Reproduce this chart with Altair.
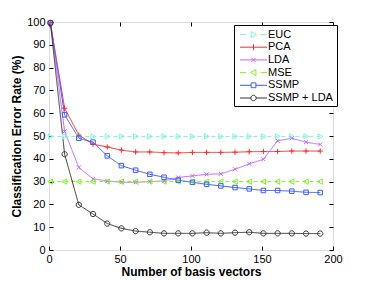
import altair as alt
import pandas as pd

# ---------------- data ----------------
basis = [1, 11, 21, 31, 41, 51, 61, 71, 81, 91, 101, 111, 121, 131, 141, 151, 161, 171, 181, 191]
series_names = ["EUC", "PCA", "LDA", "MSE", "SSMP", "SSMP + LDA"]
euc = [49.8, 49.8, 49.8, 49.8, 49.8, 49.8, 49.8, 49.8, 49.8, 49.8, 49.8, 49.8, 49.8, 49.8, 49.8, 49.8, 49.8, 49.8, 49.8, 49.8]
pca = [99.6, 62.2, 50.4, 46.4, 45.2, 43.8, 43.0, 43.0, 42.7, 42.6, 42.8, 42.8, 42.8, 42.9, 43.1, 43.2, 43.2, 43.4, 43.4, 43.4]
lda = [99.6, 52.0, 36.2, 31.2, 30.3, 29.7, 29.7, 30.0, 30.3, 31.8, 32.5, 33.2, 33.4, 35.4, 37.8, 39.8, 47.9, 49.0, 47.3, 46.3]
mse = [30.0, 30.0, 30.0, 30.0, 30.0, 30.0, 30.0, 30.0, 30.0, 30.0, 30.0, 30.0, 30.0, 30.0, 30.0, 30.0, 30.0, 30.0, 30.0, 30.0]
ssmp = [99.6, 59.3, 49.0, 47.3, 41.3, 37.0, 35.0, 33.2, 31.9, 30.6, 29.7, 28.8, 28.1, 27.4, 26.8, 26.1, 26.1, 25.8, 25.3, 25.2]
ssmp_lda = [99.6, 42.0, 19.8, 15.8, 11.6, 9.5, 8.3, 7.8, 7.3, 7.3, 7.3, 7.6, 7.3, 7.6, 7.8, 7.3, 7.3, 7.3, 7.2, 7.2]
x_ticks = [0, 50, 100, 150, 200]
y_ticks = [0, 10, 20, 30, 40, 50, 60, 70, 80, 90, 100]

colors = ["#7ff5dc", "#ff2a2a", "#c266ff", "#80f030", "#3d5cff", "#333333"]
dashes = [[4, 3], [1, 0], [1, 0], [4, 3], [1, 0], [1, 0]]
marker_paths = [
    "M-0.8,-1L1,0L-0.8,1Z",
    "M-1,0L1,0M0,-1L0,1",
    "M-0.75,-0.75L0.75,0.75M-0.75,0.75L0.75,-0.75",
    "M0.8,-1L-1,0L0.8,1Z",
    "M-0.85,-0.85L0.85,-0.85L0.85,0.85L-0.85,0.85Z",
    "M-1,0A1,1 0 1,0 1,0A1,1 0 1,0 -1,0Z",
]
legend_paths = [
    "M-2.25,0L-1.2,0M1.2,0L2.25,0M-0.4,-0.5L0.5,0L-0.4,0.5Z",
    "M-2.25,0L2.25,0M0,-0.5L0,0.5",
    "M-2.25,0L2.25,0M-0.35,-0.35L0.35,0.35M-0.35,0.35L0.35,-0.35",
    "M-2.25,0L-1.2,0M1.2,0L2.25,0M0.4,-0.5L-0.5,0L0.4,0.5Z",
    "M-2.25,0L-0.4,0M0.4,0L2.25,0M-0.4,-0.4L0.4,-0.4L0.4,0.4L-0.4,0.4Z",
    "M-2.25,0L-0.45,0M0.45,0L2.25,0M-0.45,0A0.45,0.45 0 1,0 0.45,0A0.45,0.45 0 1,0 -0.45,0Z",
]

rows = []
for name, vals in zip(series_names, [euc, pca, lda, mse, ssmp, ssmp_lda]):
    for xv, yv in zip(basis, vals):
        rows.append({"series": name, "x": xv, "y": yv})
df = pd.DataFrame(rows)

W, H = 284, 228
FONT = "Liberation Sans"

xscale = alt.Scale(domain=[0, 200], nice=False, zero=False)
yscale = alt.Scale(domain=[0, 100], nice=False, zero=False)
cscale = alt.Scale(domain=series_names, range=colors)

main_x_axis = alt.Axis(values=x_ticks, ticks=False, domain=False, grid=False, labelFlush=False,
                       labelFontSize=11, labelFont=FONT, labelColor="#000", labelPadding=3,
                       title="Number of basis vectors", titleFontSize=12, titleFont=FONT,
                       titleFontWeight="bold", titleColor="#000", titlePadding=2)
main_y_axis = alt.Axis(values=y_ticks, ticks=False, domain=False, grid=False, labelFlush=False,
                       labelFontSize=11, labelFont=FONT, labelColor="#000", labelPadding=4,
                       title="Classification Error Rate (%)", titleFontSize=12, titleFont=FONT,
                       titleFontWeight="bold", titleColor="#000", titlePadding=3)


def tick_axis(values, orient, offset):
    return alt.Axis(values=values, orient=orient, offset=offset, labels=False, domain=False,
                    grid=False, ticks=True, tickSize=4, tickColor="#000", tickWidth=1, title=None)


base = alt.Chart(df)

layers = []
for i, name in enumerate(series_names):
    if i == 0:
        xa, ya = main_x_axis, main_y_axis
    else:
        xa, ya = None, None
    ln = base.transform_filter(alt.datum.series == name).mark_line(
        strokeWidth=1, color=colors[i], strokeDash=dashes[i]
    ).encode(
        x=alt.X("x:Q", scale=xscale, axis=xa),
        y=alt.Y("y:Q", scale=yscale, axis=ya),
    )
    layers.append(ln)

for i, name in enumerate(series_names):
    if i == 0:
        xa = tick_axis(x_ticks, "top", -H)
        ya = tick_axis(y_ticks, "right", -W)
    elif i == 1:
        xa = tick_axis(x_ticks, "bottom", -H)
        ya = tick_axis(y_ticks, "left", -W)
    else:
        xa, ya = None, None
    pt = base.transform_filter(alt.datum.series == name).mark_point(
        shape=marker_paths[i], filled=False, size=28, strokeWidth=1, opacity=1, color=colors[i]
    ).encode(
        x=alt.X("x:Q", scale=xscale, axis=xa),
        y=alt.Y("y:Q", scale=yscale, axis=ya),
    )
    layers.append(pt)

legend_layer = base.transform_filter("false").mark_point(filled=False, strokeWidth=1, opacity=1).encode(
    x=alt.X("x:Q", scale=xscale, axis=None),
    y=alt.Y("y:Q", scale=yscale, axis=None),
    color=alt.Color("series:N", scale=cscale,
                    legend=alt.Legend(title=None, orient="none", legendX=185, legendY=3,
                                      symbolSize=144, symbolStrokeWidth=1, symbolOffset=10,
                                      labelOffset=8, labelFontSize=11, labelFont=FONT,
                                      labelColor="#000", padding=3, rowPadding=0.7,
                                      strokeColor="#000", fillColor="#fff", cornerRadius=0)),
    shape=alt.Shape("series:N", scale=alt.Scale(domain=series_names, range=legend_paths)),
)
layers.append(legend_layer)

chart = alt.layer(*layers).resolve_axis(
    x="independent", y="independent"
).properties(
    width=W, height=H, autosize="none",
    padding={"left": 41, "top": 14, "right": 30, "bottom": 30},
).configure_view(stroke="#000", strokeWidth=1).configure(background="#fff")

chart.save("out.html", embed_options={"renderer": "svg", "actions": False})
